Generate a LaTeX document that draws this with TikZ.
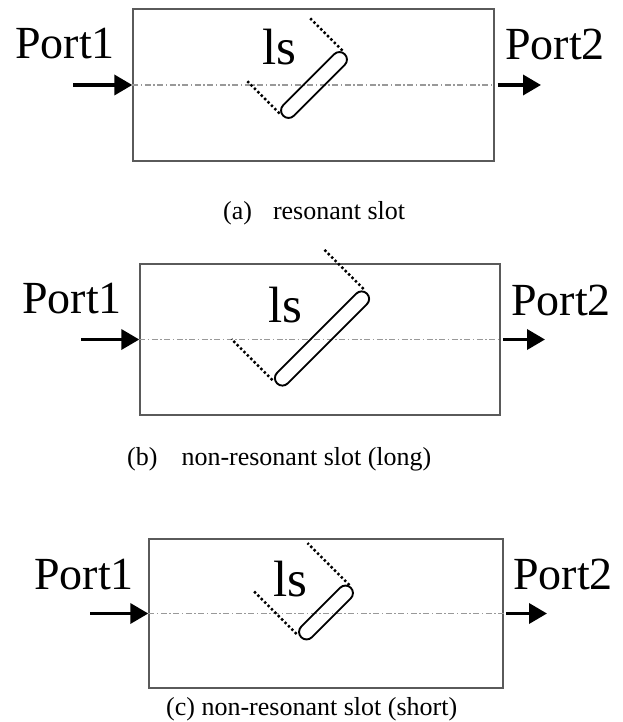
\documentclass[tikz,border=0pt]{standalone}
\usepackage{fontspec}
\setmainfont{Liberation Serif}
\usetikzlibrary{arrows.meta,shapes.misc,calc}
\definecolor{framegray}{HTML}{5A5A5A}
\definecolor{axisgray}{HTML}{999999}
\begin{document}
\begin{tikzpicture}[x=1pt,y=-1pt,
  wgbox/.style={draw=framegray, line width=1.4pt, rectangle, inner sep=0pt},
  axisline/.style={draw=axisgray, line width=1.1pt, dash pattern=on 6pt off 2.5pt on 1.5pt off 2.5pt},
  portarrow/.style={line width=3.6pt, -{Triangle[length=18pt,width=20pt]}},
  slotshape/.style={draw, rounded rectangle, line width=1.9pt, minimum height=15pt, inner sep=0pt, rotate=45},
  dimline/.style={line width=2.4pt, dash pattern=on 2.4pt off 2.4pt},
  porttext/.style={inner sep=0pt, anchor=base west, font=\fontsize{46}{50}\selectfont},
  lstext/.style={inner sep=0pt, anchor=base west, font=\fontsize{51}{55}\selectfont},
  captext/.style={inner sep=0pt, anchor=base west, font=\fontsize{26}{30}\selectfont}]
\useasboundingbox (0,0) rectangle (622,722);

% ---------- (a) ----------
\node[wgbox, minimum width=361pt, minimum height=152pt] (ba) at (313.5,85) {};
\draw[axisline] (ba.west) -- (ba.east);
\node[slotshape, minimum width=87pt] (sa) at (314,85) {};
\coordinate (ina) at (73,85);
\coordinate (outa) at (541,85);
\draw[portarrow] (ina) -- (ba.west);
\draw[portarrow] ([xshift=3pt]ba.east) -- (outa);
\node[porttext] (p1a) at (15,59) {Port1};
\node[porttext] (p2a) at (505,60) {Port2};
\node[lstext] (lsa) at (262,65) {ls};
\coordinate (da1) at ($(sa.east)+(-3,-3)$);
\coordinate (da2) at ($(sa.east)+(-36,-36)$);
\coordinate (da3) at ($(sa.west)+(-3,-3)$);
\coordinate (da4) at ($(sa.west)+(-36,-36)$);
\draw[dimline] (da1) -- (da2);
\draw[dimline] (da3) -- (da4);
\node[captext] (capa) at (223,219) {(a)\hspace{21pt}resonant slot};

% ---------- (b) ----------
\node[wgbox, minimum width=360pt, minimum height=151pt] (bb) at (320,339.5) {};
\draw[axisline] (bb.west) -- (bb.east);
\node[slotshape, minimum width=127pt] (sb) at (322,338.5) {};
\coordinate (inb) at (81,339.5);
\coordinate (outb) at (545,339.5);
\draw[portarrow] (inb) -- (bb.west);
\draw[portarrow] ([xshift=2.5pt]bb.east) -- (outb);
\node[porttext] (p1b) at (22,313) {Port1};
\node[porttext] (p2b) at (511,315) {Port2};
\node[lstext] (lsb) at (268,322) {ls};
\coordinate (db1) at ($(sb.east)+(-4,-4)$);
\coordinate (db2) at ($(sb.east)+(-44,-44)$);
\coordinate (db3) at ($(sb.west)+(-4,-4)$);
\coordinate (db4) at ($(sb.west)+(-45,-45)$);
\draw[dimline] (db1) -- (db2);
\draw[dimline] (db3) -- (db4);
\node[captext] (capb) at (127,465) {(b)\hspace{24pt}non-resonant slot (long)};

% ---------- (c) ----------
\node[wgbox, minimum width=354pt, minimum height=149pt] (bc) at (326,613.5) {};
\draw[axisline] (bc.west) -- (bc.east);
\node[slotshape, minimum width=70pt] (sc) at (326,612.5) {};
\coordinate (inc) at (90,613.5);
\coordinate (outc) at (547,613.5);
\draw[portarrow] (inc) -- (bc.west);
\draw[portarrow] ([xshift=2.5pt]bc.east) -- (outc);
\node[porttext] (p1c) at (34,589) {Port1};
\node[porttext] (p2c) at (513,589) {Port2};
\node[lstext] (lsc) at (273,596) {ls};
\coordinate (dc1) at ($(sc.east)+(-2,-2)$);
\coordinate (dc2) at ($(sc.east)+(-44,-44)$);
\coordinate (dc3) at ($(sc.west)+(-4,-4)$);
\coordinate (dc4) at ($(sc.west)+(-47,-47)$);
\draw[dimline] (dc1) -- (dc2);
\draw[dimline] (dc3) -- (dc4);
\node[captext] (capc) at (166,715) {(c) non-resonant slot (short)};
\end{tikzpicture}
\end{document}
